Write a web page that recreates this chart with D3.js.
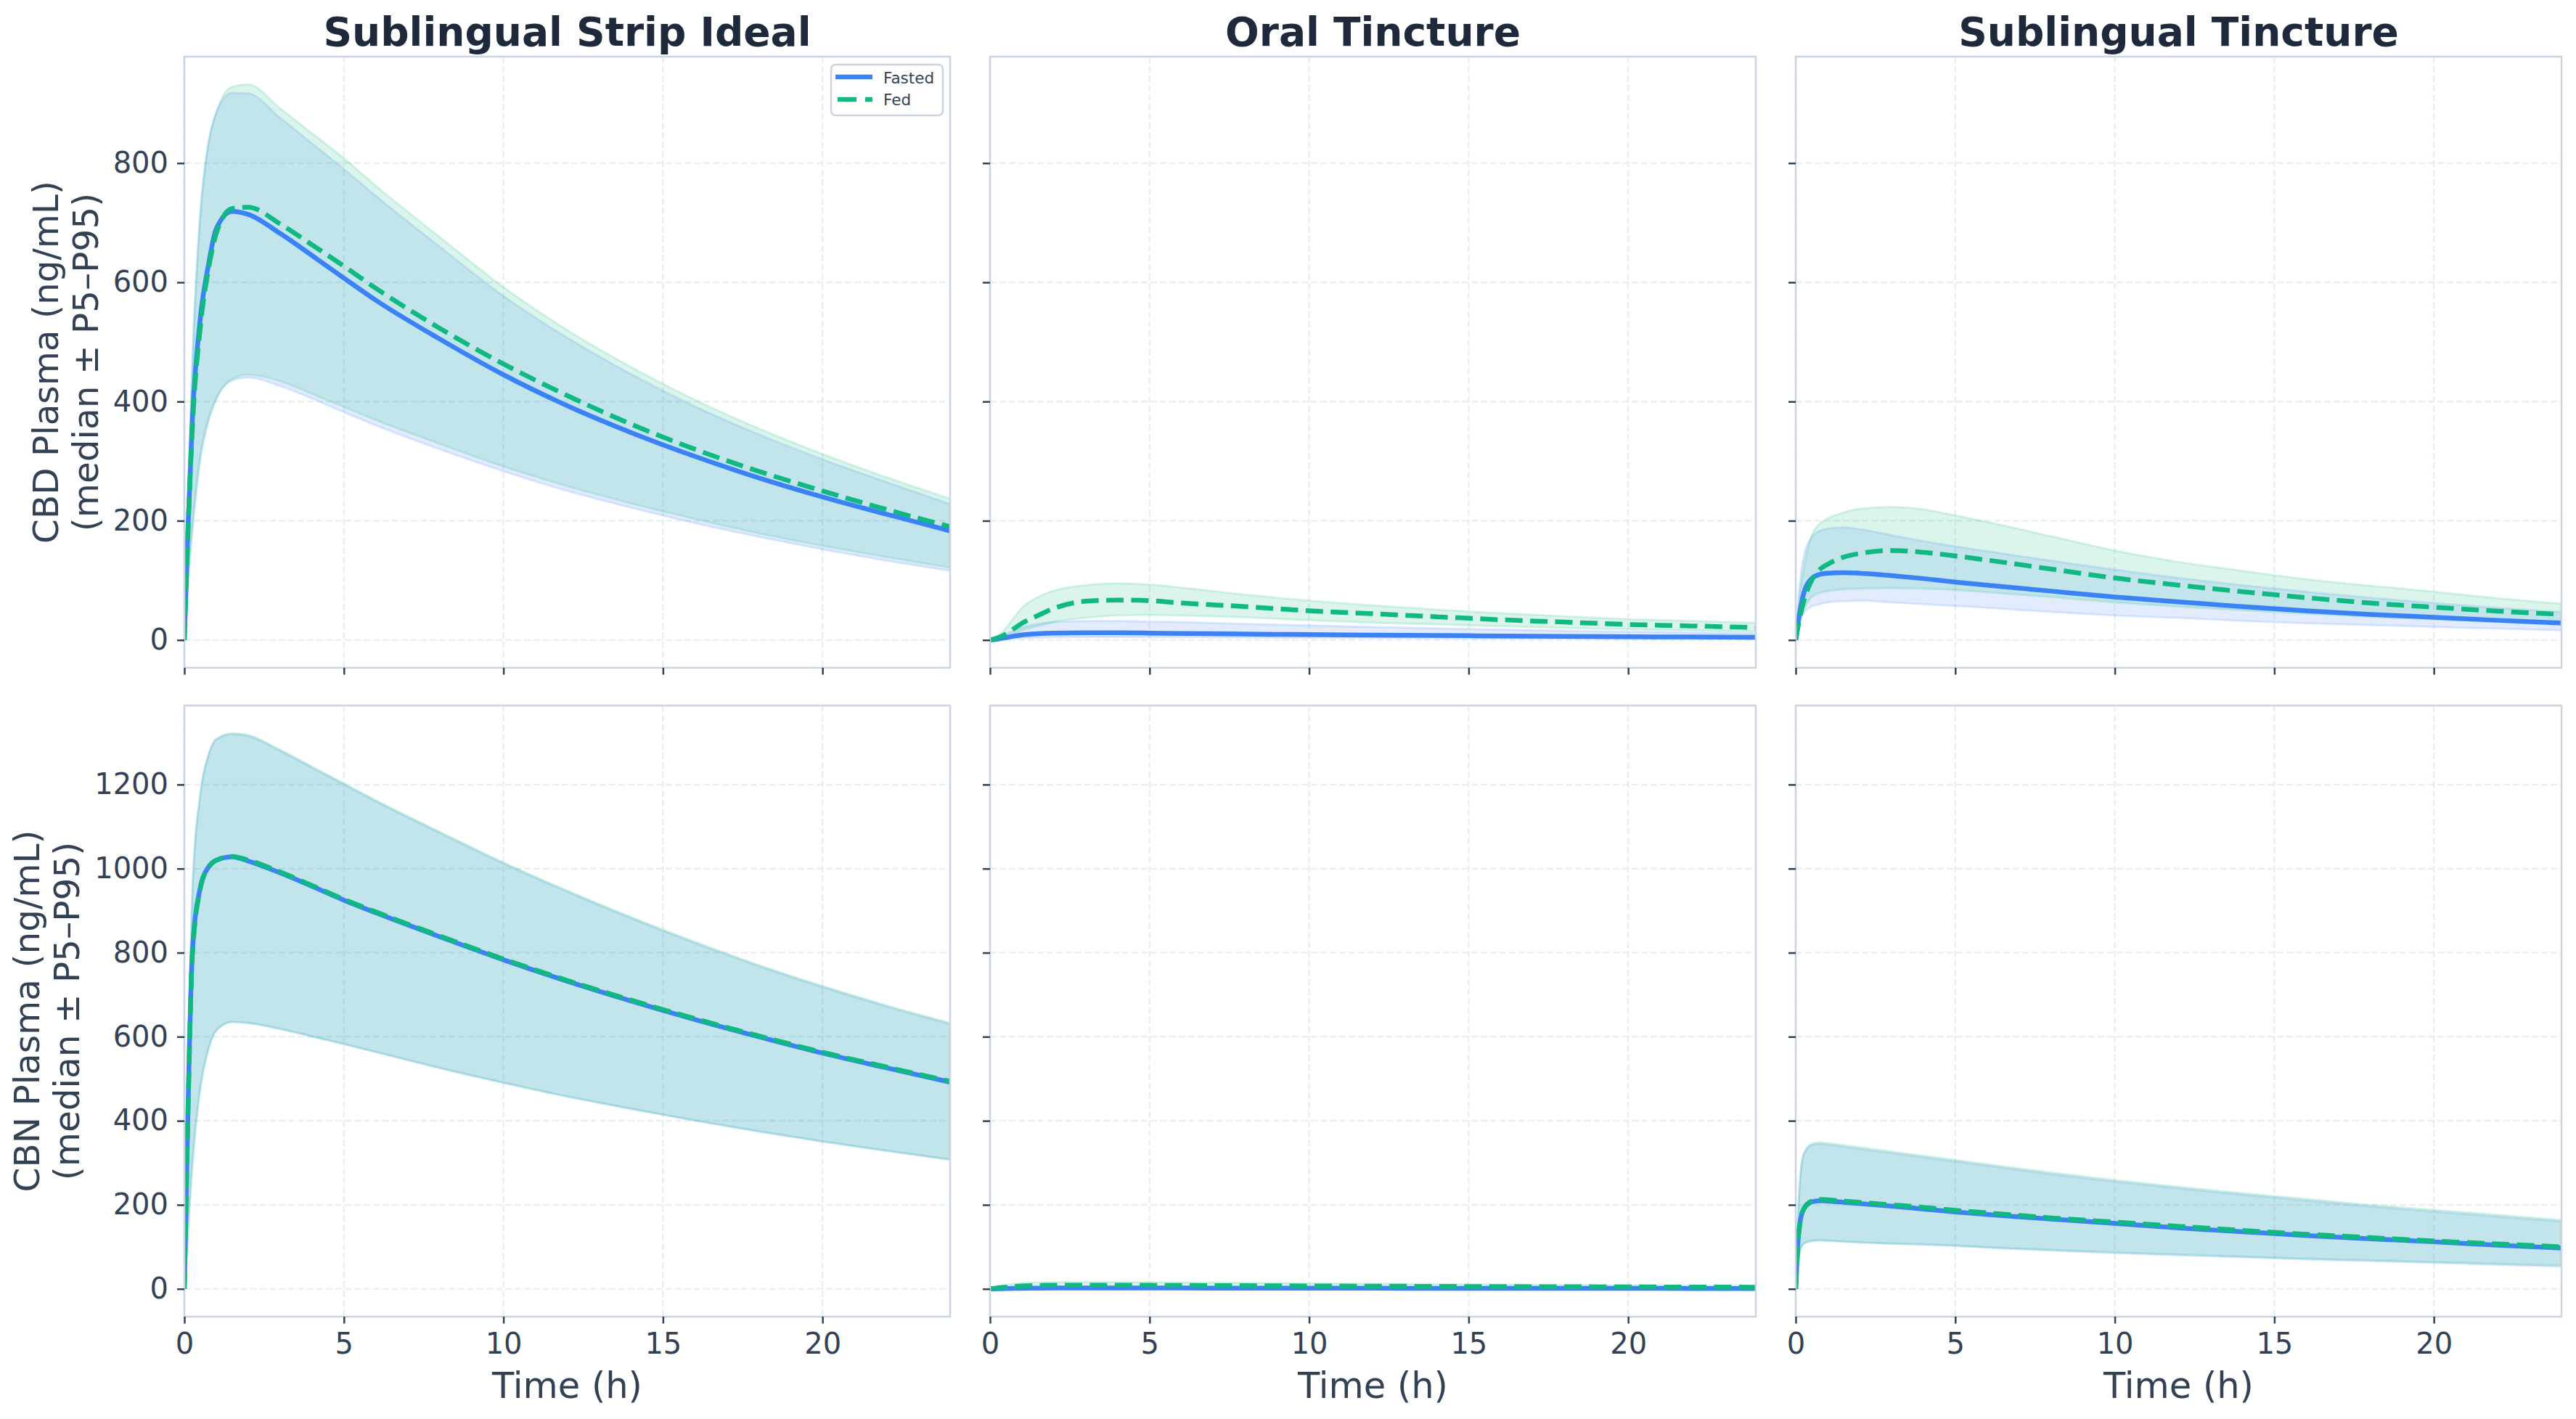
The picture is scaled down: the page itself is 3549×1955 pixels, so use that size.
<!DOCTYPE html>
<html>
<head>
<meta charset="utf-8">
<script src="https://cdn.jsdelivr.net/npm/d3@7"></script>
<style>
  body { margin: 0; background: #ffffff; }
  text { font-family: "DejaVu Sans", sans-serif; }
</style>
</head>
<body>
<div id="chart"></div>
<script>
// sampling times (h), shared by every series
var times = [0, 0.1, 0.25, 0.5, 0.75, 1, 1.5, 2, 3, 4, 5, 6, 8, 10, 12, 14, 16, 18, 20, 22, 24];

var products = ["Sublingual Strip Ideal", "Oral Tincture", "Sublingual Tincture"];
var analytes = ["CBD", "CBN"];
var xTicks = [0, 5, 10, 15, 20];
var yTicksCbd = [0, 200, 400, 600, 800];
var yTicksCbn = [0, 200, 400, 600, 800, 1000, 1200];

// CBD - Sublingual Strip Ideal
var cbdStripFastedP5  = [0, 90, 190, 310, 370, 405, 435, 440, 426, 405, 382, 360, 320, 283, 250, 222, 196, 173, 152, 133, 116];
var cbdStripFastedMed = [0, 170, 370, 540, 628, 690, 719, 714, 682, 645, 607, 570, 505, 445, 393, 348, 308, 272, 240, 211, 183];
var cbdStripFastedP95 = [0, 220, 470, 720, 835, 885, 918, 917, 876, 833, 790, 745, 660, 577, 507, 446, 392, 345, 303, 265, 228];
var cbdStripFedP5     = [0, 85, 180, 300, 365, 403, 438, 445, 434, 413, 391, 369, 329, 291, 258, 229, 203, 179, 158, 139, 121];
var cbdStripFedMed    = [0, 160, 355, 525, 620, 682, 724, 726, 698, 663, 627, 590, 523, 463, 410, 362, 320, 283, 250, 219, 190];
var cbdStripFedP95    = [0, 210, 460, 710, 830, 885, 928, 932, 892, 850, 808, 762, 676, 592, 520, 458, 403, 355, 312, 273, 237];

// CBD - Oral Tincture
var cbdOralFastedP5  = [0, 0.2, 0.6, 1.5, 2.5, 3.2, 4, 4.5, 5, 5, 4.8, 4.6, 4.2, 3.8, 3.4, 3, 2.7, 2.4, 2.1, 1.9, 1.7];
var cbdOralFastedMed = [0, 0.5, 1.5, 4, 6.5, 8.5, 10.5, 11.5, 12, 12, 11.5, 11, 10, 9, 8.2, 7.5, 6.8, 6.1, 5.5, 5, 4.5];
var cbdOralFastedP95 = [0, 1, 4, 10, 16, 21, 27, 30, 32, 32, 31, 30, 27, 24.5, 22, 19.5, 17.5, 15.5, 14, 12.5, 11];
var cbdOralFedP5     = [0, 0.5, 2, 5, 10, 16, 23, 30, 37, 41, 42, 41, 38, 33, 29, 26, 23, 20, 18, 16, 14];
var cbdOralFedMed    = [0, 1.2, 4, 10, 19, 28, 41, 53, 65, 67, 66, 62, 56, 49, 44, 39, 34, 30, 26, 23.5, 21];
var cbdOralFedP95    = [0, 2, 7, 20, 38, 54, 72, 83, 92, 95, 93, 88, 76, 66, 58, 51, 45, 40, 35, 32, 29];

// CBD - Sublingual Tincture
var cbdSlFastedP5  = [0, 25, 45, 56, 60, 63, 65, 66, 63, 60, 57, 54, 47, 41, 37, 32, 28, 25, 22, 19, 16];
var cbdSlFastedMed = [0, 38, 78, 103, 110, 112, 113, 112, 108, 103, 97, 92, 82, 72, 64, 56, 49, 43, 38, 33, 28.5];
var cbdSlFastedP95 = [0, 80, 140, 173, 183, 187, 189, 186, 176, 166, 157, 149, 133, 118, 104, 92, 81, 71, 62, 54, 47];
var cbdSlFedP5     = [0, 25, 50, 72, 79, 82, 85, 86, 87, 86, 84, 80, 72, 63, 56, 50, 44, 39, 35, 30, 26];
var cbdSlFedMed    = [0, 30, 65, 100, 118, 127, 139, 145, 150, 147, 141, 134, 119, 104, 92, 81, 71, 62, 55, 48.5, 43];
var cbdSlFedP95    = [0, 60, 120, 175, 195, 204, 214, 220, 223, 219, 209, 198, 174, 150, 131, 116, 102, 91, 81, 70, 61];

// CBN - Sublingual Strip Ideal
var cbnStripFastedP5  = [0, 120, 300, 480, 570, 615, 635, 632, 618, 600, 582, 563, 525, 490, 457, 428, 400, 374, 350, 328, 307];
var cbnStripFastedMed = [0, 380, 800, 955, 1003, 1020, 1028, 1018, 990, 958, 925, 895, 838, 783, 732, 685, 641, 600, 561, 526, 492];
var cbnStripFastedP95 = [0, 450, 950, 1180, 1270, 1308, 1320, 1315, 1280, 1240, 1200, 1160, 1085, 1012, 945, 882, 823, 768, 718, 672, 630];
var cbnStripFedP5     = [0, 115, 290, 475, 568, 614, 635, 633, 619, 601, 583, 564, 526, 491, 458, 429, 401, 375, 351, 329, 308];
var cbnStripFedMed    = [0, 370, 790, 952, 1002, 1020, 1029, 1020, 992, 960, 927, 897, 840, 785, 734, 687, 643, 602, 563, 528, 494];
var cbnStripFedP95    = [0, 440, 940, 1175, 1268, 1308, 1322, 1318, 1283, 1243, 1203, 1163, 1088, 1015, 948, 885, 826, 771, 721, 675, 633];

// CBN - Oral Tincture
var cbnOralFastedP5  = [0, 0.05, 0.1, 0.3, 0.5, 0.6, 0.8, 0.9, 0.95, 0.95, 0.9, 0.88, 0.8, 0.74, 0.68, 0.62, 0.57, 0.53, 0.49, 0.45, 0.42];
var cbnOralFastedMed = [0, 0.1, 0.3, 0.7, 1.1, 1.4, 1.8, 2, 2.1, 2.1, 2, 1.95, 1.8, 1.65, 1.5, 1.4, 1.3, 1.2, 1.1, 1, 0.9];
var cbnOralFastedP95 = [0, 0.3, 0.8, 1.8, 2.8, 3.5, 4.5, 5, 5.3, 5.3, 5.2, 5, 4.6, 4.2, 3.9, 3.6, 3.3, 3, 2.8, 2.6, 2.4];
var cbnOralFedP5     = [0, 0.5, 1.2, 2.2, 3, 3.5, 4, 4.3, 4.4, 4.4, 4.3, 4.2, 3.9, 3.6, 3.3, 3.1, 2.8, 2.6, 2.4, 2.2, 2];
var cbnOralFedMed    = [0, 1, 2.5, 4.5, 6, 7, 8, 8.5, 8.7, 8.6, 8.4, 8.1, 7.6, 7, 6.5, 6, 5.5, 5.1, 4.7, 4.3, 4];
var cbnOralFedP95    = [0, 2, 5, 9, 12, 14, 15.5, 16, 16.5, 16.3, 16, 15.5, 14.5, 13.4, 12.4, 11.4, 10.5, 9.7, 9, 8.3, 7.7];

// CBN - Sublingual Tincture
var cbnSlFastedP5  = [0, 80, 108, 114, 115, 114, 112, 110, 107, 105, 102, 98, 91, 85, 80, 75, 70, 66, 62, 57, 53];
var cbnSlFastedMed = [0, 140, 190, 207, 210, 209, 206, 203, 197, 190, 183, 177, 166, 156, 145, 136, 127, 119, 112, 104, 97];
var cbnSlFastedP95 = [0, 220, 320, 342, 345, 343, 338, 333, 323, 313, 303, 293, 273, 255, 239, 224, 210, 196, 184, 172, 160];
var cbnSlFedP5     = [0, 75, 107, 114, 116, 115, 113, 111, 108, 106, 103, 99, 93, 87, 82, 77, 72, 68, 64, 60, 56];
var cbnSlFedMed    = [0, 135, 190, 209, 213, 212, 209, 206, 200, 194, 187, 181, 169, 159, 149, 139, 130, 122, 114, 107, 100];
var cbnSlFedP95    = [0, 215, 322, 345, 349, 347, 342, 337, 327, 317, 307, 297, 277, 259, 243, 228, 214, 200, 188, 176, 164];

// panels: [row][col]
var panels = [
  [
    {fasted: [cbdStripFastedP5, cbdStripFastedMed, cbdStripFastedP95], fed: [cbdStripFedP5, cbdStripFedMed, cbdStripFedP95]},
    {fasted: [cbdOralFastedP5, cbdOralFastedMed, cbdOralFastedP95], fed: [cbdOralFedP5, cbdOralFedMed, cbdOralFedP95]},
    {fasted: [cbdSlFastedP5, cbdSlFastedMed, cbdSlFastedP95], fed: [cbdSlFedP5, cbdSlFedMed, cbdSlFedP95]}
  ],
  [
    {fasted: [cbnStripFastedP5, cbnStripFastedMed, cbnStripFastedP95], fed: [cbnStripFedP5, cbnStripFedMed, cbnStripFedP95]},
    {fasted: [cbnOralFastedP5, cbnOralFastedMed, cbnOralFastedP95], fed: [cbnOralFedP5, cbnOralFedMed, cbnOralFedP95]},
    {fasted: [cbnSlFastedP5, cbnSlFastedMed, cbnSlFastedP95], fed: [cbnSlFedP5, cbnSlFedMed, cbnSlFedP95]}
  ]
];
var yTicks = [yTicksCbd, yTicksCbn];

// layout
var W = 3549, H = 1955;
var colX = [254, 1364, 2474], panelW = 1055;
var rowY = [78, 972], panelH = 842;
var blue = "#3b82f6", green = "#10b981";
var ink = "#334155", spine = "#cbd5e1";

var svg = d3.select("#chart")
  .append("svg")
    .attr("width", W)
    .attr("height", H);

var x = d3.scaleLinear().domain([0, 24]).range([0, panelW]);

panels.forEach(function(row, r) {
  // shared y per row, with matplotlib-like 5% margins
  var ymax = d3.max(row, function(p) { return Math.max(d3.max(p.fasted[2]), d3.max(p.fed[2])); });
  var pad = ymax * 0.05;
  var y = d3.scaleLinear().domain([-pad, ymax + pad]).range([panelH, 0]);

  row.forEach(function(p, c) {
    var g = svg.append("g")
      .attr("transform", "translate(" + colX[c] + "," + rowY[r] + ")");

    var clipId = "clip" + r + c;
    g.append("clipPath").attr("id", clipId)
      .append("rect").attr("width", panelW).attr("height", panelH);

    // grid
    g.append("g").selectAll("line.gx")
      .data(xTicks).enter().append("line")
        .attr("x1", function(d) { return x(d); })
        .attr("x2", function(d) { return x(d); })
        .attr("y1", 0).attr("y2", panelH)
        .attr("stroke", "#e2e8f0").attr("stroke-opacity", 0.7)
        .attr("stroke-width", 2.5).attr("stroke-dasharray", "9,4");
    g.append("g").selectAll("line.gy")
      .data(yTicks[r]).enter().append("line")
        .attr("x1", 0).attr("x2", panelW)
        .attr("y1", function(d) { return y(d); })
        .attr("y2", function(d) { return y(d); })
        .attr("stroke", "#e2e8f0").attr("stroke-opacity", 0.7)
        .attr("stroke-width", 2.5).attr("stroke-dasharray", "9,4");

    var plot = g.append("g").attr("clip-path", "url(#" + clipId + ")");

    var area = function(lo, hi) {
      return d3.area()
        .x(function(d, i) { return x(times[i]); })
        .y0(function(d, i) { return y(lo[i]); })
        .y1(function(d, i) { return y(hi[i]); })
        .curve(d3.curveMonotoneX)(times);
    };
    var line = function(vals) {
      return d3.line()
        .x(function(d, i) { return x(times[i]); })
        .y(function(d, i) { return y(vals[i]); })
        .curve(d3.curveMonotoneX)(times);
    };

    // bands
    [[p.fasted, blue], [p.fed, green]].forEach(function(s) {
      plot.append("path")
        .attr("d", area(s[0][0], s[0][2]))
        .attr("fill", s[1]).attr("fill-opacity", 0.15)
        .attr("stroke", s[1]).attr("stroke-opacity", 0.15)
        .attr("stroke-width", 3);
    });

    // medians
    plot.append("path")
      .attr("d", line(p.fasted[1]))
      .attr("fill", "none").attr("stroke", blue)
      .attr("stroke-width", 6.5);
    plot.append("path")
      .attr("d", line(p.fed[1]))
      .attr("fill", "none").attr("stroke", green)
      .attr("stroke-width", 6.5).attr("stroke-dasharray", "24,10.4");

    // spines
    g.append("rect")
      .attr("width", panelW).attr("height", panelH)
      .attr("fill", "none").attr("stroke", spine).attr("stroke-width", 2.5);

    // axes
    var yAxis = g.append("g")
      .call(d3.axisLeft(y).tickValues(yTicks[r]).tickSize(10).tickPadding(12)
        .tickFormat(c === 0 ? d3.format("d") : function() { return ""; }));
    var xAxis = g.append("g")
      .attr("transform", "translate(0," + panelH + ")")
      .call(d3.axisBottom(x).tickValues(xTicks).tickSize(9.5).tickPadding(13)
        .tickFormat(r === 1 ? d3.format("d") : function() { return ""; }));
    [yAxis, xAxis].forEach(function(a) {
      a.select(".domain").remove();
      a.selectAll(".tick line").attr("stroke", ink).attr("stroke-width", 2.5);
      a.selectAll(".tick text")
        .attr("fill", ink)
        .style("font-size", "40px")
        .style("font-family", "DejaVu Sans");
    });

    // titles
    if (r === 0) {
      g.append("text")
        .attr("x", panelW / 2).attr("y", 63 - rowY[0])
        .attr("text-anchor", "middle")
        .attr("fill", "#1e293b")
        .style("font-size", "55px").style("font-weight", "bold")
        .text(products[c]);
    }
    if (r === 1) {
      g.append("text")
        .attr("x", panelW / 2).attr("y", 1926 - rowY[1])
        .attr("text-anchor", "middle")
        .attr("fill", ink)
        .style("font-size", "49.5px")
        .text("Time (h)");
    }
    if (c === 0) {
      var bx = r === 0 ? [80, 135] : [54, 109];
      var lab = [analytes[r] + " Plasma (ng/mL)", "(median \u00b1 P5\u2013P95)"];
      lab.forEach(function(t, k) {
        svg.append("text")
          .attr("transform", "translate(" + bx[k] + "," + (rowY[r] + panelH / 2) + ") rotate(-90)")
          .attr("text-anchor", "middle")
          .attr("fill", ink)
          .style("font-size", "48.5px")
          .text(t);
      });
    }

    // legend
    if (r === 0 && c === 0) {
      var lg = svg.append("g");
      lg.append("rect")
        .attr("x", 1145).attr("y", 89).attr("width", 154).attr("height", 70)
        .attr("rx", 6).attr("fill", "#ffffff").attr("fill-opacity", 0.9)
        .attr("stroke", spine).attr("stroke-width", 2.5);
      lg.append("line")
        .attr("x1", 1151).attr("x2", 1202).attr("y1", 106).attr("y2", 106)
        .attr("stroke", blue).attr("stroke-width", 6.5);
      lg.append("line")
        .attr("x1", 1154).attr("x2", 1202).attr("y1", 137).attr("y2", 137)
        .attr("stroke", green).attr("stroke-width", 6.5).attr("stroke-dasharray", "26,12");
      lg.append("text").attr("x", 1217).attr("y", 115)
        .attr("fill", ink).style("font-size", "21.5px").text("Fasted");
      lg.append("text").attr("x", 1217).attr("y", 145)
        .attr("fill", ink).style("font-size", "21.5px").text("Fed");
    }
  });
});
</script>
</body>
</html>
